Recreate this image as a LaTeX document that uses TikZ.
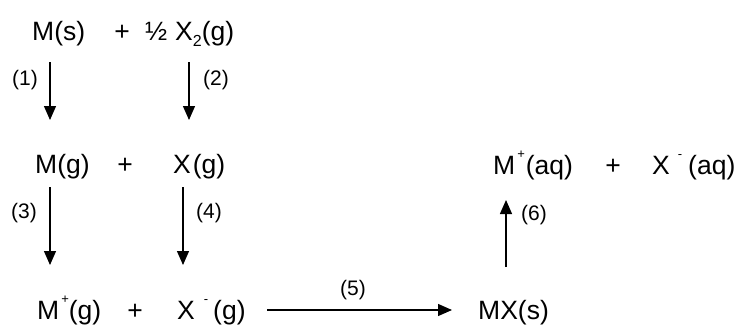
\documentclass[tikz,border=0pt]{standalone}
\usepackage{fontspec}
\setmainfont{Liberation Sans}
\usetikzlibrary{arrows.meta,calc}
\newcommand{\supch}[1]{\raisebox{16pt}{\fontsize{13}{13}\selectfont #1}}
\newcommand{\subch}[1]{\raisebox{-6pt}{\fontsize{16}{16}\selectfont #1}}
\begin{document}
\begin{tikzpicture}[x=1pt,y=-1pt,
  species/.style={inner sep=0pt,anchor=base west,font=\fontsize{26.5}{30}\selectfont},
  plussign/.style={inner sep=0pt,anchor=base,font=\fontsize{26.5}{30}\selectfont},
  steplabel/.style={inner sep=0pt,anchor=center,font=\fontsize{21}{24}\selectfont},
  arr/.style={line width=1.3pt,-{Triangle[length=14pt,width=12pt]}}]
\useasboundingbox (0,0) rectangle (739,324);
% row 1
\node[species] (Ms) at (32,40) {M(s)};
\node[plussign] (p1) at (122,40) {+};
\node[species] (half) at (145,40) {½};
\node[species] (X2g) at (175,40) {X\subch{2}(g)};
% row 2
\node[species] (Mg) at (35,173) {M(g)};
\node[plussign] (p2) at (125,173) {+};
\node[species] (Xg) at (173,173) {X\hspace{2pt}(g)};
\node[species] (Maq) at (493,174) {M\kern2pt\supch{+}\kern1pt(aq)};
\node[plussign] (p3) at (613,174) {+};
\node[species] (Xaq) at (652,174) {X\hspace{8pt}\supch{-}\hspace{6pt}(aq)};
% row 3
\node[species] (Mp) at (37,319) {M\kern2pt\supch{+}\kern0pt(g)};
\node[plussign] (p4) at (135,319) {+};
\node[species] (Xm) at (177,319) {X\hspace{9pt}\supch{-}\hspace{5pt}(g)};
\node[species] (MX) at (478,319) {MX(s)};
% arrows
\draw[arr] ($(Ms.base west)+(18,22)$) -- ($(Mg.base west)+(15,-53)$);
\draw[arr] ($(X2g.base west)+(14,22)$) -- ($(Xg.base west)+(16,-53)$);
\draw[arr] ($(Mg.base west)+(15,14)$) -- ($(Mp.base west)+(13,-54)$);
\draw[arr] ($(Xg.base west)+(10,14)$) -- ($(Xm.base west)+(6,-54)$);
\draw[arr] ($(Xm.base west)+(90,-9)$) -- ($(MX.base west)+(-26,-9)$);
\draw[arr] ($(MX.base west)+(28,-52)$) -- ($(Maq.base west)+(13,26)$);
% labels
\node[steplabel] (l1) at (25,80) {(1)};
\node[steplabel] (l2) at (216,80) {(2)};
\node[steplabel] (l3) at (24,213) {(3)};
\node[steplabel] (l4) at (209,213) {(4)};
\node[steplabel] (l5) at (353,290) {(5)};
\node[steplabel] (l6) at (534,215) {(6)};
\end{tikzpicture}
\end{document}
